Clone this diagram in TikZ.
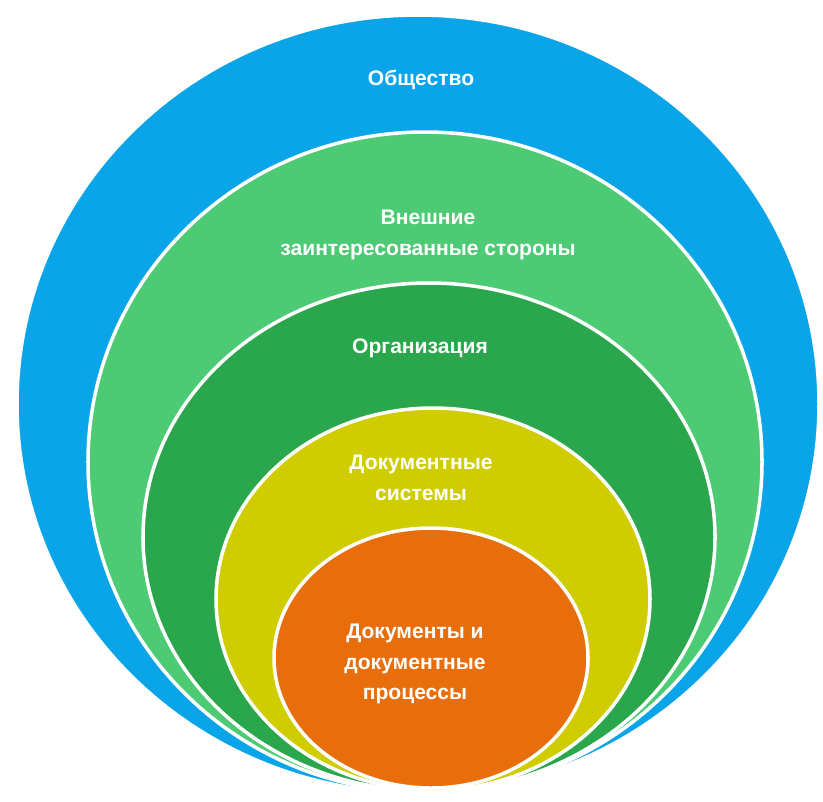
\documentclass[tikz,border=0pt]{standalone}
\usepackage{fontspec}
\setmainfont{Liberation Sans}
\definecolor{societyblue}{HTML}{0AA5E8}
\definecolor{stakegreen}{HTML}{4CCB74}
\definecolor{orggreen}{HTML}{2AA64C}
\definecolor{sysyellow}{HTML}{CFCC00}
\definecolor{docorange}{HTML}{E86E0C}
\begin{document}
\begin{tikzpicture}[x=0.03cm,y=-0.03cm]
  \tikzstyle{layer} = [draw=white, line width=3pt]
  \tikzstyle{ringtext} = [text=white, font=\bfseries\fontsize{18}{26}\selectfont, align=center]

  \useasboundingbox (0,0) rectangle (823,801);

  % Layer 1: society
  \draw [layer, fill=societyblue] (418,404) ellipse [x radius=401, y radius=389];
  \node [ringtext] (society) at (421,80) {Общество};

  % Layer 2: external stakeholders
  \draw [layer, fill=stakegreen] (425,462) ellipse [x radius=337, y radius=330];
  \node [ringtext] (stakeh) at (428,235) {Внешние\\заинтересованные стороны};

  % Layer 3: organisation
  \draw [layer, fill=orggreen] (429,537) ellipse [x radius=286, y radius=254];
  \node [ringtext] (org) at (420,348) {Организация};

  % Layer 4: document systems
  \draw [layer, fill=sysyellow] (433,599) ellipse [x radius=217, y radius=191];
  \node [ringtext] (docsys) at (421,478) {Документные\\системы};

  % Layer 5: documents and processes
  \draw [layer, fill=docorange] (431,658) ellipse [x radius=157, y radius=130];
  \node [ringtext] (docs) at (415,664) {Документы и\\документные\\процессы};
\end{tikzpicture}
\end{document}
